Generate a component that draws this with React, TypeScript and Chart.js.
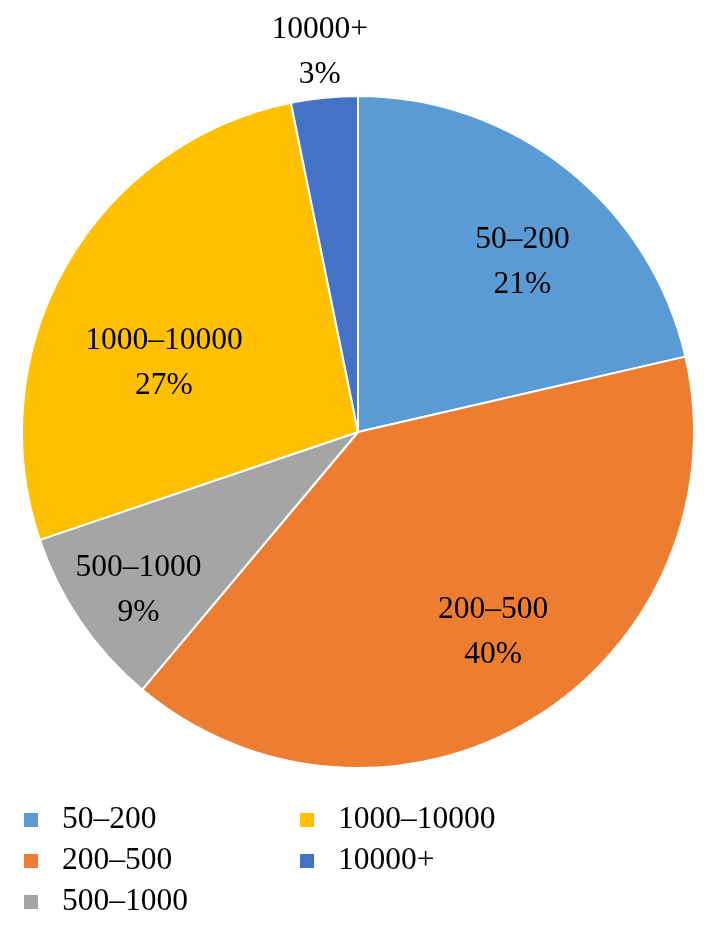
import React, { useEffect, useRef } from "react";
import { Chart, registerables } from "chart.js";

Chart.register(...registerables);

const categories = ["50–200", "200–500", "500–1000", "1000–10000", "10000+"];
const values = [21.4, 39.7, 8.7, 27.0, 3.2];
const colors = ["#5B9BD5", "#ED7D31", "#A5A5A5", "#FFC000", "#4472C4"];
// label placement along each slice's middle angle (fraction of radius, angle nudge in rad)
const labelRadius = [0.703, 0.718, 0.805, 0.613, 1.135];
const labelAngleNudge = [0.098, -0.045, -0.024, -0.18, 0];
const legendColumns = [[0, 1, 2], [3, 4]];

const FONT = '"Liberation Serif", "Times New Roman", serif';
const FONT_SIZE = 31.5;
const LINE_HALF = 22.5;

const labelsPlugin = {
  id: "sliceLabels",
  afterDatasetsDraw(chart: any) {
    const ctx = chart.ctx;
    const meta = chart.getDatasetMeta(0);
    const data = chart.data.datasets[0].data as number[];
    const total = data.reduce((a, b) => a + b, 0);
    ctx.save();
    ctx.font = `${FONT_SIZE}px ${FONT}`;
    ctx.fillStyle = "#000";
    ctx.textAlign = "center";
    ctx.textBaseline = "middle";
    meta.data.forEach((arc: any, i: number) => {
      const { x, y, startAngle, endAngle, outerRadius } = arc.getProps(
        ["x", "y", "startAngle", "endAngle", "outerRadius"],
        true
      );
      const mid = (startAngle + endAngle) / 2 + labelAngleNudge[i];
      const r = outerRadius * labelRadius[i];
      const cx = x + Math.cos(mid) * r;
      const cy = y + Math.sin(mid) * r;
      const pct = Math.round((data[i] / total) * 100) + "%";
      ctx.fillText(chart.data.labels[i], cx, cy - LINE_HALF);
      ctx.fillText(pct, cx, cy + LINE_HALF);
    });
    // legend
    const colX = [[24, 62], [300, 338]];
    const rowY0 = 820;
    const rowGap = 41;
    ctx.textAlign = "left";
    legendColumns.forEach((col, c) => {
      col.forEach((idx, r) => {
        const yy = rowY0 + r * rowGap;
        ctx.fillStyle = colors[idx];
        ctx.fillRect(colX[c][0], yy - 7, 14, 14);
        ctx.fillStyle = "#000";
        ctx.fillText(categories[idx], colX[c][1], yy);
      });
    });
    ctx.restore();
  },
};

export default function App() {
  const ref = useRef<HTMLCanvasElement>(null);
  useEffect(() => {
    if (!ref.current) return;
    const chart = new Chart(ref.current, {
      type: "pie",
      data: {
        labels: categories,
        datasets: [
          {
            data: values,
            backgroundColor: colors,
            borderColor: "#ffffff",
            borderWidth: 2,
          },
        ],
      },
      options: {
        animation: false,
        responsive: false,
        layout: { padding: { top: 95, bottom: 163, left: 21, right: 22 } },
        plugins: { legend: { display: false }, tooltip: { enabled: false } },
      },
      plugins: [labelsPlugin],
    });
    return () => chart.destroy();
  }, []);
  return (
    <div style={{ position: "fixed", left: 0, top: 0, width: 717, height: 932, background: "#fff" }}>
      <canvas ref={ref} width={717} height={932} style={{ width: 717, height: 932, display: "block" }} />
    </div>
  );
}
